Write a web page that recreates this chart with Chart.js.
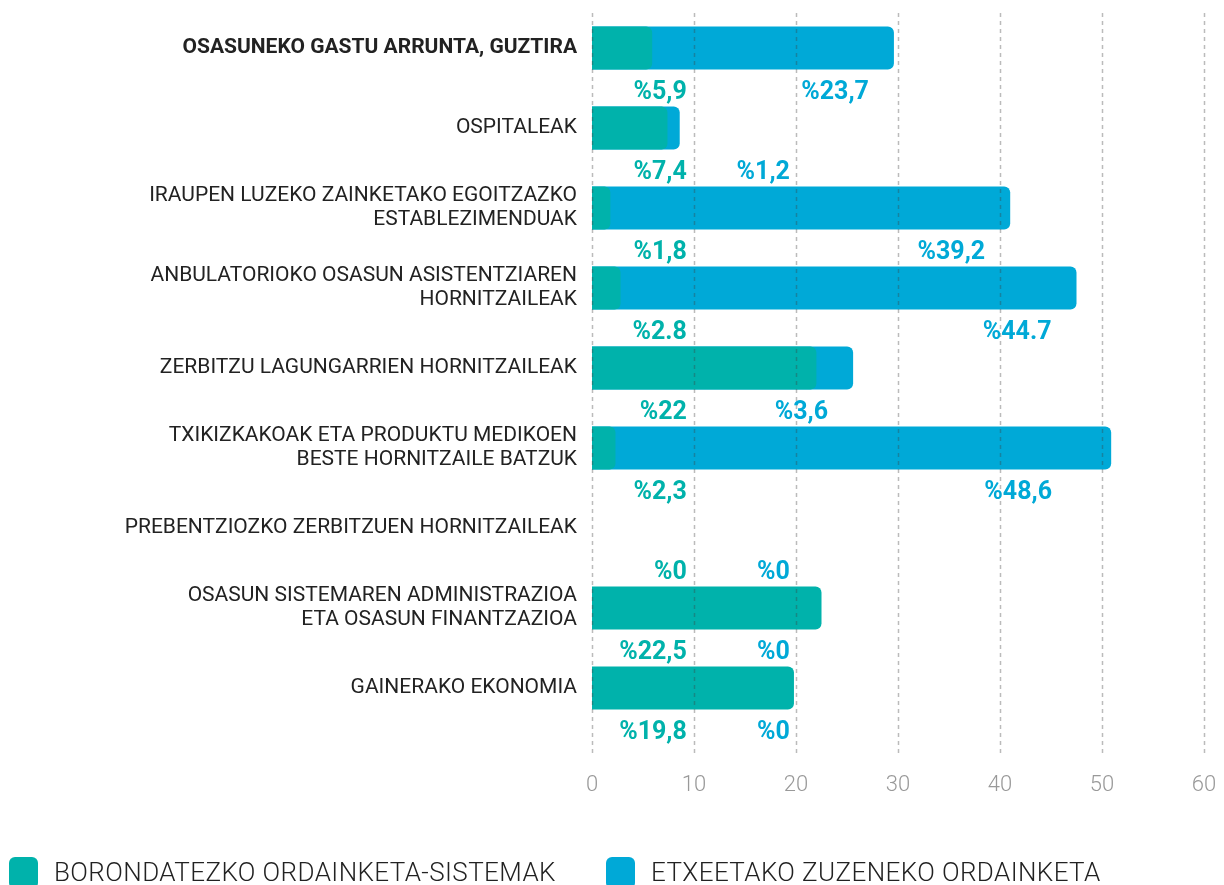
<!DOCTYPE html>
<html>
<head>
<meta charset="utf-8">
<script src="https://cdn.jsdelivr.net/npm/chart.js@4.4.1/dist/chart.umd.min.js"></script>
<style>
  html, body { margin: 0; padding: 0; background: #fff; }
  #wrap { position: relative; width: 1224px; height: 885px; overflow: hidden; }
  #legend { position: absolute; left: 0; top: 0; width: 1224px; height: 885px; pointer-events: none; }
  .item { position: absolute; top: 857px; height: 30px; display: flex; align-items: flex-start; }
  .box { width: 29px; height: 32px; border-radius: 6px; margin-right: 16px; }
  .txt { font-family: Roboto, sans-serif; font-weight: 300; font-size: 26px; letter-spacing: 0.4px; color: #222; line-height: 30px; margin-top: 0px; }
</style>
</head>
<body>
<div id="wrap">
  <canvas id="chart" width="1224" height="885"></canvas>
  <div id="legend"></div>
</div>
<script>
// categories (multi-line labels as arrays)
const categories = [
    'OSASUNEKO GASTU ARRUNTA, GUZTIRA',
    'OSPITALEAK',
    ['IRAUPEN LUZEKO ZAINKETAKO EGOITZAZKO', 'ESTABLEZIMENDUAK'],
    ['ANBULATORIOKO OSASUN ASISTENTZIAREN', 'HORNITZAILEAK'],
    'ZERBITZU LAGUNGARRIEN HORNITZAILEAK',
    ['TXIKIZKAKOAK ETA PRODUKTU MEDIKOEN', 'BESTE HORNITZAILE BATZUK'],
    'PREBENTZIOZKO ZERBITZUEN HORNITZAILEAK',
    ['OSASUN SISTEMAREN ADMINISTRAZIOA', 'ETA OSASUN FINANTZAZIOA'],
    'GAINERAKO EKONOMIA'
];

const voluntary = [5.9, 7.4, 1.8, 2.8, 22, 2.3, 0, 22.5, 19.8];
const household = [23.7, 1.2, 39.2, 44.7, 3.6, 48.6, 0, 0, 0];

const voluntaryLabels = ['%5,9', '%7,4', '%1,8', '%2.8', '%22', '%2,3', '%0', '%22,5', '%19,8'];
const householdLabels = ['%23,7', '%1,2', '%39,2', '%44.7', '%3,6', '%48,6', '%0', '%0', '%0'];

const seriesNames = ['BORONDATEZKO ORDAINKETA-SISTEMAK', 'ETXEETAKO ZUZENEKO ORDAINKETA'];
const xMin = 0, xMax = 60, xStep = 10;

const teal = '#00b2ab';
const blue = '#00a9d7';

// household bar is drawn from 0 to the total, behind the voluntary one
let householdTotal = household.map((v, i) => v ? v + voluntary[i] : null);
let voluntaryBars = voluntary.map(v => v ? v : null);

// dashed grid drawn on top of bars
const gridPlugin = {
    id: 'dashGrid',
    afterDatasetsDraw(chart) {
        const c = chart.ctx;
        const xs = chart.scales.x;
        c.save();
        c.strokeStyle = 'rgba(60,60,60,0.35)';
        c.lineWidth = 1.5;
        c.setLineDash([4, 4]);
        xs.ticks.forEach(t => {
            let x = Math.round(xs.getPixelForValue(t.value)) + 0.5;
            c.beginPath();
            c.moveTo(x, 13);
            c.lineTo(x, 756);
            c.stroke();
        });
        c.restore();
    }
};

// percentage labels under each bar
const valuePlugin = {
    id: 'valueLabels',
    afterDatasetsDraw(chart) {
        const c = chart.ctx;
        const xs = chart.scales.x;
        const ys = chart.scales.y;
        c.save();
        c.font = 'bold 25px Roboto, sans-serif';
        c.textAlign = 'right';
        c.textBaseline = 'middle';
        categories.forEach((cat, i) => {
            let y = ys.getPixelForValue(i) + 45;
            c.fillStyle = teal;
            c.fillText(voluntaryLabels[i], xs.getPixelForValue(9.3), y);
            let right = xs.getPixelForValue(19.4);
            if (household[i]) {
                let total = voluntary[i] + household[i];
                right = Math.max(right, Math.min(xs.getPixelForValue(total) - 25, xs.getPixelForValue(45.1)));
            }
            c.fillStyle = blue;
            c.fillText(householdLabels[i], right, y);
        });
        c.restore();
    }
};

let ctx = document.getElementById('chart').getContext('2d');
let chart = new Chart(ctx, {
    type: 'bar',
    data: {
        labels: categories,
        datasets: [{
            label: seriesNames[0],
            data: voluntaryBars,
            backgroundColor: teal,
            borderRadius: 6,
            borderSkipped: 'start',
            barPercentage: 0.54,
            categoryPercentage: 1
        }, {
            label: seriesNames[1],
            data: householdTotal,
            backgroundColor: blue,
            borderRadius: 6,
            borderSkipped: 'start',
            barPercentage: 0.54,
            categoryPercentage: 1
        }]
    },
    options: {
        indexAxis: 'y',
        responsive: false,
        animation: false,
        layout: { padding: { top: 8, right: 20, left: 0, bottom: 0 } },
        plugins: {
            legend: { display: false },
            tooltip: { enabled: false }
        },
        scales: {
            x: {
                stacked: false,
                min: xMin,
                max: xMax,
                ticks: {
                    stepSize: xStep,
                    padding: 44,
                    color: '#999',
                    font: { family: 'Roboto', size: 22, weight: 300 }
                },
                grid: { display: false, drawTicks: false },
                border: { display: false },
                afterFit(scale) {
                    scale.height = 157;
                    scale.paddingLeft = 0;
                    scale.paddingRight = 0;
                }
            },
            y: {
                stacked: true,
                ticks: {
                    padding: 15,
                    color: '#222',
                    font: (c) => ({
                        family: 'Roboto',
                        size: 21,
                        weight: c.index === 0 ? 'bold' : 'normal',
                        lineHeight: 1.15
                    })
                },
                grid: { display: false, drawTicks: false },
                border: { display: false },
                afterFit(scale) {
                    scale.width = 592;
                    scale.paddingTop = 0;
                    scale.paddingBottom = 0;
                }
            }
        }
    },
    plugins: [gridPlugin, valuePlugin]
});

// html legend
let legend = document.getElementById('legend');
let lefts = [9, 606];
chart.data.datasets.forEach((ds, i) => {
    let item = document.createElement('div');
    item.className = 'item';
    item.style.left = lefts[i] + 'px';
    item.innerHTML = '<div class="box" style="background:' + ds.backgroundColor + '"></div><div class="txt">' + ds.label + '</div>';
    legend.appendChild(item);
});
</script>
</body>
</html>
